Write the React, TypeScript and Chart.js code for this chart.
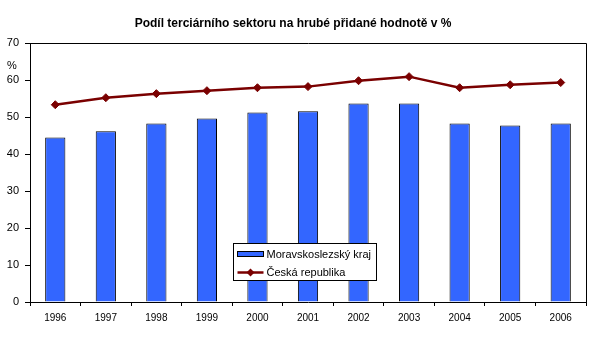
import React, { useEffect, useRef } from 'react';
import { Chart, registerables } from 'chart.js';

Chart.register(...registerables);

const years = ['1996', '1997', '1998', '1999', '2000', '2001', '2002', '2003', '2004', '2005', '2006'];
const moravskoslezsky = [44.5, 46.2, 48.3, 49.7, 51.3, 51.6, 53.7, 53.7, 48.3, 47.8, 48.3];
const ceskaRepublika = [53.4, 55.3, 56.4, 57.2, 58.0, 58.3, 59.9, 61.0, 58.0, 58.8, 59.4];
const seriesNames = ['Moravskoslezský kraj', 'Česká republika'];
const titleText = 'Podíl terciárního sektoru na hrubé přidané hodnotě v %';
const unitLabel = '%';
const unitLabelValue = 64;
const yMin = 0;
const yMax = 70;
const yStep = 10;

const FONT = '"Liberation Sans", Arial, sans-serif';
const BAR_COLOR = '#3366FF';
const LINE_COLOR = '#7a0000';

const frameAndLegend = {
  id: 'frameAndLegend',
  afterDraw(chart: any) {
    const ctx = chart.ctx;
    const ca = chart.chartArea;
    ctx.save();
    // plot frame
    ctx.strokeStyle = '#000';
    ctx.lineWidth = 1;
    ctx.beginPath();
    ctx.moveTo(Math.round(ca.left) + 0.5, Math.round(ca.top) + 0.5);
    ctx.lineTo(Math.round(ca.right) + 0.5, Math.round(ca.top) + 0.5);
    ctx.lineTo(Math.round(ca.right) + 0.5, Math.round(ca.bottom) + 0.5);
    ctx.stroke();

    // unit label
    const yScale = chart.scales.y;
    ctx.fillStyle = '#000';
    ctx.font = `11px ${FONT}`;
    ctx.textAlign = 'left';
    ctx.textBaseline = 'middle';
    ctx.fillText(unitLabel, 7, yScale.getPixelForValue(unitLabelValue));

    // legend box
    const bx = Math.round(ca.left + 203) + 0.5;
    const by = Math.round(ca.top + 200) + 0.5;
    const bw = 143;
    const bh = 37;
    ctx.fillStyle = '#fff';
    ctx.fillRect(bx, by, bw, bh);
    ctx.strokeStyle = '#000';
    ctx.lineWidth = 1;
    ctx.strokeRect(bx, by, bw, bh);

    const dsList = chart.data.datasets;
    const barDs = dsList.find((d: any) => d.type === 'bar');
    const lineDs = dsList.find((d: any) => d.type === 'line');
    // row 1: bar swatch
    const r1 = by + 11;
    ctx.fillStyle = barDs.backgroundColor;
    ctx.fillRect(bx + 4, r1 - 3, 26, 5);
    ctx.strokeRect(bx + 4, r1 - 3, 26, 5);
    ctx.fillStyle = '#000';
    ctx.font = `11px ${FONT}`;
    ctx.textAlign = 'left';
    ctx.textBaseline = 'middle';
    ctx.fillText(barDs.label, bx + 33, r1);

    // row 2: line with diamond
    const r2 = by + 29;
    ctx.strokeStyle = lineDs.borderColor;
    ctx.lineWidth = 2.5;
    ctx.beginPath();
    ctx.moveTo(bx + 4, r2);
    ctx.lineTo(bx + 30, r2);
    ctx.stroke();
    ctx.fillStyle = lineDs.borderColor;
    const cx = bx + 17;
    ctx.beginPath();
    ctx.moveTo(cx, r2 - 4);
    ctx.lineTo(cx + 4, r2);
    ctx.lineTo(cx, r2 + 4);
    ctx.lineTo(cx - 4, r2);
    ctx.closePath();
    ctx.fill();
    ctx.fillStyle = '#000';
    ctx.fillText(lineDs.label, bx + 33, r2);
    ctx.restore();
  },
};

export default function App() {
  const ref = useRef<HTMLCanvasElement>(null);

  useEffect(() => {
    if (!ref.current) return;
    const chart = new Chart(ref.current, {
      type: 'bar',
      data: {
        labels: years,
        datasets: [
          {
            type: 'line',
            label: seriesNames[1],
            data: ceskaRepublika,
            borderColor: LINE_COLOR,
            backgroundColor: LINE_COLOR,
            borderWidth: 2.5,
            pointStyle: 'rectRot',
            pointRadius: 4,
            pointBackgroundColor: LINE_COLOR,
            pointBorderColor: LINE_COLOR,
            pointBorderWidth: 1,
            tension: 0,
            fill: false,
            order: 0,
          } as any,
          {
            type: 'bar',
            label: seriesNames[0],
            data: moravskoslezsky,
            backgroundColor: BAR_COLOR,
            borderColor: '#000',
            borderWidth: 1,
            barPercentage: 0.4,
            categoryPercentage: 1,
            order: 1,
          } as any,
        ],
      },
      options: {
        responsive: false,
        animation: false,
        devicePixelRatio: 1,
        layout: { padding: { left: 0, right: 17, top: 0, bottom: 0 } },
        plugins: {
          legend: { display: false },
          tooltip: { enabled: false },
          title: {
            display: true,
            text: titleText,
            color: '#000',
            font: { family: FONT, size: 12, weight: 'bold' },
            padding: { top: 16, bottom: 13 },
          },
        },
        scales: {
          x: {
            offset: true,
            grid: {
              offset: true,
              drawOnChartArea: false,
              drawTicks: true,
              tickLength: 4,
              color: '#000',
            },
            border: { color: '#000', width: 1 },
            ticks: {
              color: '#000',
              font: { family: FONT, size: 10 },
              padding: 6,
              maxRotation: 0,
              autoSkip: false,
            },
            afterFit: (s: any) => {
              s.height = 36;
            },
          },
          y: {
            min: yMin,
            max: yMax,
            grid: {
              drawOnChartArea: false,
              drawTicks: true,
              tickLength: 5,
              color: '#000',
            },
            border: { color: '#000', width: 1 },
            ticks: {
              stepSize: yStep,
              color: '#000',
              font: { family: FONT, size: 11 },
              padding: 6,
            },
            afterFit: (s: any) => {
              s.width = 30;
            },
          },
        },
      },
      plugins: [frameAndLegend],
    });
    return () => chart.destroy();
  }, []);

  return (
    <div style={{ position: 'absolute', left: 0, top: 0, width: 603, height: 338, background: '#fff' }}>
      <canvas ref={ref} width={603} height={338} style={{ display: 'block' }} />
    </div>
  );
}
